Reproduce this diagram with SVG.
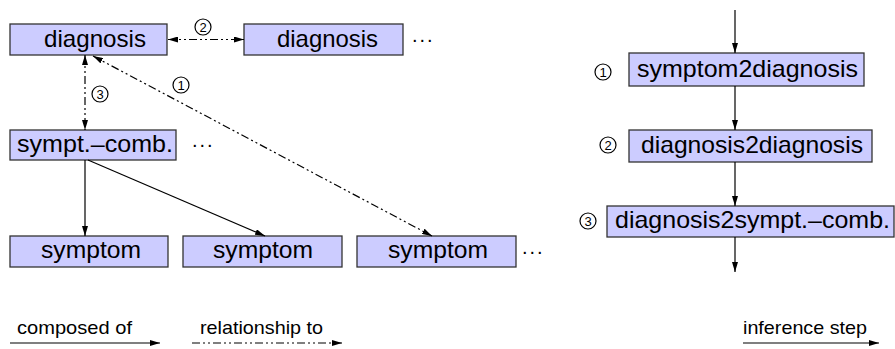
<svg xmlns="http://www.w3.org/2000/svg" width="895" height="349" viewBox="0 0 895 349">
  <style>
    .box { fill: #ccccff; stroke: #333333; stroke-width: 1.3; }
    .lbl { font-family: "Liberation Sans", Arial, sans-serif; font-size: 24px; fill: #000; }
    .leg { font-family: "Liberation Sans", Arial, sans-serif; font-size: 19px; fill: #000; }
    .num { font-family: "Liberation Sans", Arial, sans-serif; font-size: 13px; fill: #000; text-anchor: middle; }
    .ring { fill: none; stroke: #000; stroke-width: 1.2; }
    .dots { font-family: "Liberation Sans", Arial, sans-serif; font-size: 20px; fill: #000; letter-spacing: 2px; }
    .solid { stroke: #000; stroke-width: 1.2; fill: none; }
    .rel { stroke: #000; stroke-width: 1.2; fill: none; stroke-dasharray: 8 3 2 3 2 3; }
  </style>
  <defs>
    <marker id="head" viewBox="0 0 10 6" refX="10" refY="3" markerWidth="10" markerHeight="6" markerUnits="userSpaceOnUse" orient="auto-start-reverse">
      <path d="M0,0 L10,3 L0,6 Z" fill="#000"/>
    </marker>
  </defs>

  <!-- concept hierarchy -->
  <g id="diagnosis1">
    <rect class="box" x="10" y="24" width="157" height="31"/>
    <text class="lbl" x="44" y="47" textLength="102" lengthAdjust="spacingAndGlyphs">diagnosis</text>
  </g>
  <g id="diagnosis2">
    <rect class="box" x="244" y="24" width="159" height="31"/>
    <text class="lbl" x="277" y="47" textLength="101" lengthAdjust="spacingAndGlyphs">diagnosis</text>
    <text class="dots" x="412" y="42">...</text>
  </g>
  <g id="symptcomb">
    <rect class="box" x="10" y="130" width="166" height="30"/>
    <text class="lbl" x="17" y="152" textLength="156" lengthAdjust="spacingAndGlyphs">sympt.–comb.</text>
    <text class="dots" x="192" y="147">...</text>
  </g>
  <g id="symptom1">
    <rect class="box" x="10" y="236" width="158" height="31"/>
    <text class="lbl" x="41" y="258" textLength="100" lengthAdjust="spacingAndGlyphs">symptom</text>
  </g>
  <g id="symptom2">
    <rect class="box" x="183" y="236" width="159" height="31"/>
    <text class="lbl" x="213" y="258" textLength="100" lengthAdjust="spacingAndGlyphs">symptom</text>
  </g>
  <g id="symptom3">
    <rect class="box" x="357" y="236" width="159" height="31"/>
    <text class="lbl" x="388" y="258" textLength="100" lengthAdjust="spacingAndGlyphs">symptom</text>
    <text class="dots" x="522" y="254">...</text>
  </g>

  <!-- inference chain -->
  <g id="step1">
    <circle class="ring" cx="603" cy="72" r="8"/>
    <text class="num" x="603" y="76.5">1</text>
    <rect class="box" x="629" y="53" width="235" height="33"/>
    <text class="lbl" x="637" y="77" textLength="221" lengthAdjust="spacingAndGlyphs">symptom2diagnosis</text>
  </g>
  <g id="step2">
    <circle class="ring" cx="608" cy="145" r="8"/>
    <text class="num" x="608" y="149.5">2</text>
    <rect class="box" x="629" y="130" width="243" height="32"/>
    <text class="lbl" x="641" y="153" textLength="222" lengthAdjust="spacingAndGlyphs">diagnosis2diagnosis</text>
  </g>
  <g id="step3">
    <circle class="ring" cx="588" cy="221" r="8"/>
    <text class="num" x="588" y="225.5">3</text>
    <rect class="box" x="607" y="206" width="287" height="31"/>
    <text class="lbl" x="615" y="228" textLength="275" lengthAdjust="spacingAndGlyphs">diagnosis2sympt.–comb.</text>
  </g>

  <!-- connectors -->
  <g id="connectors">
    <line class="solid" x1="85" y1="160" x2="85" y2="236" marker-end="url(#head)"/>
    <line class="solid" x1="88" y1="160" x2="265" y2="236" marker-end="url(#head)"/>
    <line class="rel" x1="168" y1="39.5" x2="244" y2="39.5" marker-start="url(#head)" marker-end="url(#head)"/>
    <line class="rel" x1="85" y1="55" x2="85" y2="130" marker-start="url(#head)" marker-end="url(#head)"/>
    <line class="rel" x1="93" y1="56" x2="432" y2="236" marker-start="url(#head)" marker-end="url(#head)"/>
    <circle class="ring" cx="203" cy="27" r="8"/>
    <text class="num" x="203" y="31.5">2</text>
    <circle class="ring" cx="181" cy="85" r="8"/>
    <text class="num" x="181" y="89.5">1</text>
    <circle class="ring" cx="100" cy="94" r="8"/>
    <text class="num" x="100" y="98.5">3</text>

    <line class="solid" x1="735" y1="10" x2="735" y2="53" marker-end="url(#head)"/>
    <line class="solid" x1="735" y1="86" x2="735" y2="130" marker-end="url(#head)"/>
    <line class="solid" x1="735" y1="162" x2="735" y2="206" marker-end="url(#head)"/>
    <line class="solid" x1="735" y1="237" x2="735" y2="272" marker-end="url(#head)"/>
  </g>

  <!-- legend -->
  <g id="legend">
    <text class="leg" x="17" y="334" textLength="115" lengthAdjust="spacingAndGlyphs">composed of</text>
    <line class="solid" x1="10" y1="343" x2="160" y2="343" marker-end="url(#head)"/>
    <text class="leg" x="200" y="334" textLength="123" lengthAdjust="spacingAndGlyphs">relationship to</text>
    <line class="rel" x1="192" y1="343" x2="342" y2="343" marker-end="url(#head)"/>
    <text class="leg" x="743" y="334" textLength="124" lengthAdjust="spacingAndGlyphs">inference step</text>
    <line class="solid" x1="743" y1="343" x2="879" y2="343" marker-end="url(#head)"/>
  </g>
</svg>
